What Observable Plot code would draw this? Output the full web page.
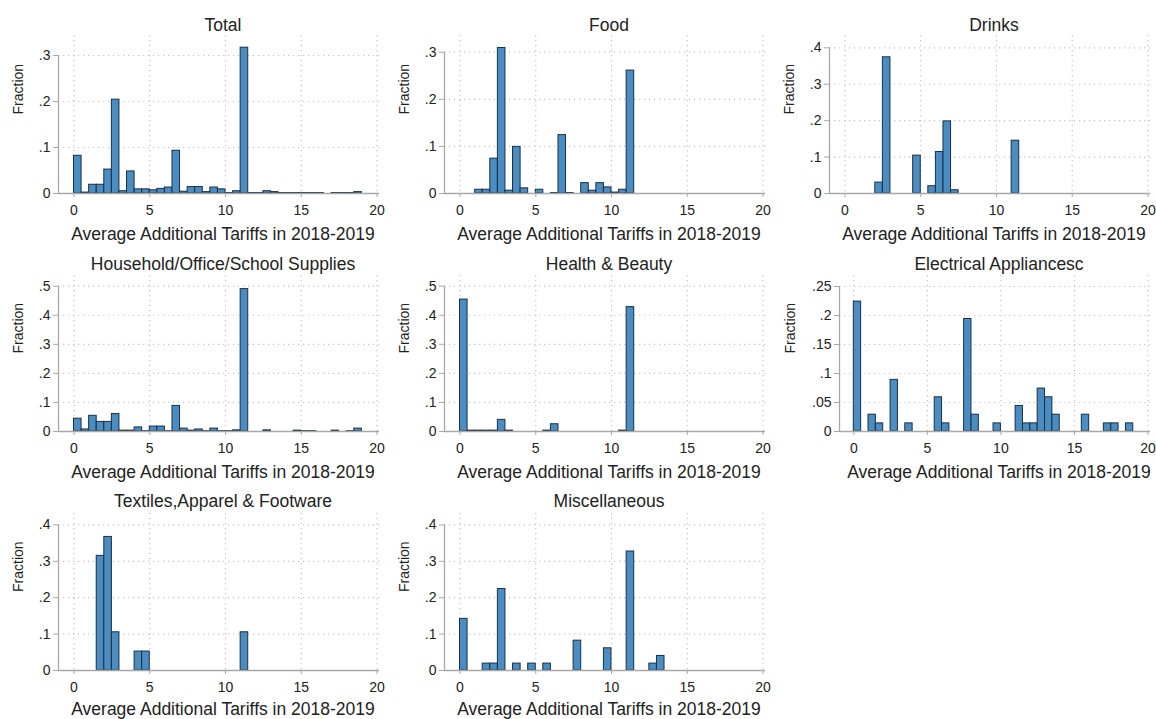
<!DOCTYPE html>
<html>
<head>
<meta charset="utf-8">
<script src="https://cdn.jsdelivr.net/npm/d3@7"></script>
<script src="https://cdn.jsdelivr.net/npm/@observablehq/plot@0.6"></script>
<style>
  html, body { margin: 0; padding: 0; background: #fff; }
  #chart { position: relative; width: 1156px; height: 719px; overflow: hidden; background: #fff; }
  #chart svg { position: absolute; overflow: visible; }
</style>
</head>
<body>
<div id="chart"></div>
<script>
// ---------- DATA ----------
// Lower edge of each histogram bin (bin width 0.5)
const binLow = [0, 0.5, 1, 1.5, 2, 2.5, 3, 3.5, 4, 4.5,
                5, 5.5, 6, 6.5, 7, 7.5, 8, 8.5, 9, 9.5,
                10, 10.5, 11, 11.5, 12, 12.5, 13, 13.5, 14, 14.5,
                15, 15.5, 16, 16.5, 17, 17.5, 18, 18.5, 19, 19.5];
const binWidth = 0.5;

// Fractions per bin
const total = [0.082, 0.002, 0.019, 0.019, 0.052, 0.204, 0.005, 0.048, 0.009, 0.009,
               0.007, 0.010, 0.013, 0.093, 0.004, 0.014, 0.014, 0.003, 0.013, 0.009,
               0.001, 0.005, 0.317, 0.001, 0.001, 0.005, 0.003, 0.001, 0.001, 0.001,
               0.001, 0.001, 0.001, 0, 0.001, 0.001, 0.001, 0.003, 0, 0];
const food = [0, 0, 0.008, 0.008, 0.074, 0.309, 0.006, 0.099, 0.011, 0,
              0.008, 0, 0.001, 0.124, 0.001, 0, 0.022, 0.006, 0.022, 0.013,
              0.002, 0.008, 0.261, 0, 0, 0, 0, 0, 0, 0,
              0, 0, 0, 0, 0, 0, 0, 0, 0, 0];
const drinks = [0, 0, 0, 0, 0.030, 0.374, 0, 0, 0, 0.104,
                0, 0.020, 0.114, 0.198, 0.009, 0, 0, 0, 0, 0,
                0, 0, 0.145, 0, 0, 0, 0, 0, 0, 0,
                0, 0, 0, 0, 0, 0, 0, 0, 0, 0];
const household = [0.044, 0.007, 0.054, 0.033, 0.033, 0.060, 0.003, 0.003, 0.014, 0.001,
                   0.017, 0.017, 0.001, 0.088, 0.010, 0.003, 0.007, 0.001, 0.010, 0.001,
                   0.001, 0.004, 0.490, 0, 0, 0.004, 0, 0, 0, 0.003,
                   0.001, 0.001, 0, 0, 0.003, 0, 0.001, 0.010, 0, 0];
const health = [0.454, 0.003, 0.003, 0.003, 0.003, 0.040, 0.003, 0, 0, 0,
                0, 0.003, 0.025, 0, 0, 0, 0, 0, 0, 0,
                0, 0.003, 0.428, 0, 0, 0, 0, 0, 0, 0,
                0, 0, 0, 0, 0, 0, 0, 0, 0, 0];
const electrical = [0.224, 0, 0.029, 0.014, 0, 0.089, 0, 0.014, 0, 0,
                    0, 0.059, 0.014, 0, 0, 0.194, 0.029, 0, 0, 0.014,
                    0, 0, 0.044, 0.014, 0.014, 0.074, 0.059, 0.029, 0, 0,
                    0, 0.029, 0, 0, 0.014, 0.014, 0, 0.014, 0, 0];
const textiles = [0, 0, 0, 0.315, 0.367, 0.105, 0, 0, 0.052, 0.052,
                  0, 0, 0, 0, 0, 0, 0, 0, 0, 0,
                  0, 0, 0.105, 0, 0, 0, 0, 0, 0, 0,
                  0, 0, 0, 0, 0, 0, 0, 0, 0, 0];
const misc = [0.142, 0, 0, 0.019, 0.019, 0.224, 0, 0.019, 0, 0.019,
              0, 0.019, 0, 0, 0, 0.082, 0, 0, 0, 0.061,
              0, 0, 0.327, 0, 0, 0.019, 0.040, 0, 0, 0,
              0, 0, 0, 0, 0, 0, 0, 0, 0, 0];

const titles = ["Total", "Food", "Drinks", "Household/Office/School Supplies",
                "Health & Beauty", "Electrical Appliancesc",
                "Textiles,Apparel & Footware", "Miscellaneous"];
const series = [total, food, drinks, household, health, electrical, textiles, misc];

const xTicks = [0, 5, 10, 15, 20];
const yTickSets = [
  [0, 0.1, 0.2, 0.3],
  [0, 0.1, 0.2, 0.3],
  [0, 0.1, 0.2, 0.3, 0.4],
  [0, 0.1, 0.2, 0.3, 0.4, 0.5],
  [0, 0.1, 0.2, 0.3, 0.4, 0.5],
  [0, 0.05, 0.1, 0.15, 0.2, 0.25],
  [0, 0.1, 0.2, 0.3, 0.4],
  [0, 0.1, 0.2, 0.3, 0.4]
];
const xTitle = "Average Additional Tariffs in 2018-2019";
const yTitle = "Fraction";

// ---------- LAYOUT ----------
const yMax = [0.3435, 0.3355, 0.4338, 0.5368, 0.5368, 0.269, 0.4314, 0.4314];
const colLeft = [0, 386, 771];
const rows = [
  {top: 0,   h: 245, mt: 35, mb: 52, titleDy: -10.5, xTitleDy: 41},
  {top: 245, h: 240, mt: 30, mb: 54, titleDy: -11.5, xTitleDy: 41},
  {top: 485, h: 234, mt: 28, mb: 49, titleDy: -12.5, xTitleDy: 39}
];

const FONT = "'Liberation Sans', Arial, Helvetica, sans-serif";
const BAR_FILL = "#4a8dc2";
const BAR_STROKE = "#1d2f40";
const AXIS = "#a8a8a8";
const GRID = "#c4c4c4";
const TEXT = "#222";

const fmt = d => d === 0 ? "0" : String(d).replace(/^0\./, ".");

const chart = document.getElementById("chart");

series.forEach((vals, i) => {
  const row = rows[Math.floor(i / 3)];
  const col = i % 3;
  const W = 385;
  const wide = i === 5;                // ".25"-style labels push the axis right
  const a = wide ? 68 : 58;            // y-axis line position in the panel
  const p0 = wide ? 82.3 : 73.5;       // pixel of x = 0
  const p20 = 376.5;                   // pixel of x = 20
  const right = 379;                   // right edge of plot region
  const k = (p20 - p0) / 20;
  const xmin = -(p0 - a) / k;
  const xmax = 20 + (right - p20) / k;

  const rowsData = binLow.map((x, j) => ({x1: x, x2: x + binWidth, v: vals[j]}))
                         .filter(d => d.v > 0);
  const yt = yTickSets[i];
  const topTick = yt[yt.length - 1];

  const svg = Plot.plot({
    width: W,
    height: row.h,
    marginLeft: a,
    marginRight: W - right,
    marginTop: row.mt,
    marginBottom: row.mb,
    style: {fontFamily: FONT, fontSize: "14px", color: TEXT, background: "transparent"},
    x: {domain: [xmin, xmax], axis: null},
    y: {domain: [0, yMax[i]], axis: null},
    marks: [
      Plot.gridX({ticks: xTicks, stroke: GRID, strokeOpacity: 1, strokeWidth: 1.2, strokeDasharray: "1.2,3.8"}),
      Plot.gridY({ticks: yt.slice(1), stroke: GRID, strokeOpacity: 1, strokeWidth: 1.2, strokeDasharray: "1.2,3.8"}),
      Plot.rectY(rowsData, {x1: "x1", x2: "x2", y: "v", fill: BAR_FILL, stroke: BAR_STROKE, strokeWidth: 1, inset: 0}),
      Plot.ruleY([0], {stroke: AXIS, strokeWidth: 1.3}),
      Plot.ruleX([xmin], {y1: 0, y2: topTick, stroke: AXIS, strokeWidth: 1.3}),
      Plot.axisX({ticks: xTicks, tickSize: 4, tickPadding: 8, stroke: AXIS, fill: TEXT, label: null, fontSize: 14}),
      Plot.axisY({ticks: yt, tickFormat: fmt, tickSize: 5, tickPadding: 3, stroke: AXIS, fill: TEXT, label: null, fontSize: 14}),
      Plot.text([titles[i]], {frameAnchor: "top", dx: 4, dy: row.titleDy, lineAnchor: "middle", fontSize: 17.5, fill: TEXT, text: d => d}),
      Plot.text([xTitle], {frameAnchor: "bottom", dx: 4, dy: row.xTitleDy, lineAnchor: "middle", fontSize: 17.5, fill: TEXT, text: d => d}),
      Plot.text([yTitle], {frameAnchor: "left", rotate: -90, dx: wide ? -49 : -40, lineAnchor: "middle", fontSize: 14, fill: TEXT, text: d => d})
    ]
  });
  svg.style.left = colLeft[col] + "px";
  svg.style.top = row.top + "px";
  chart.appendChild(svg);
});
</script>
</body>
</html>
